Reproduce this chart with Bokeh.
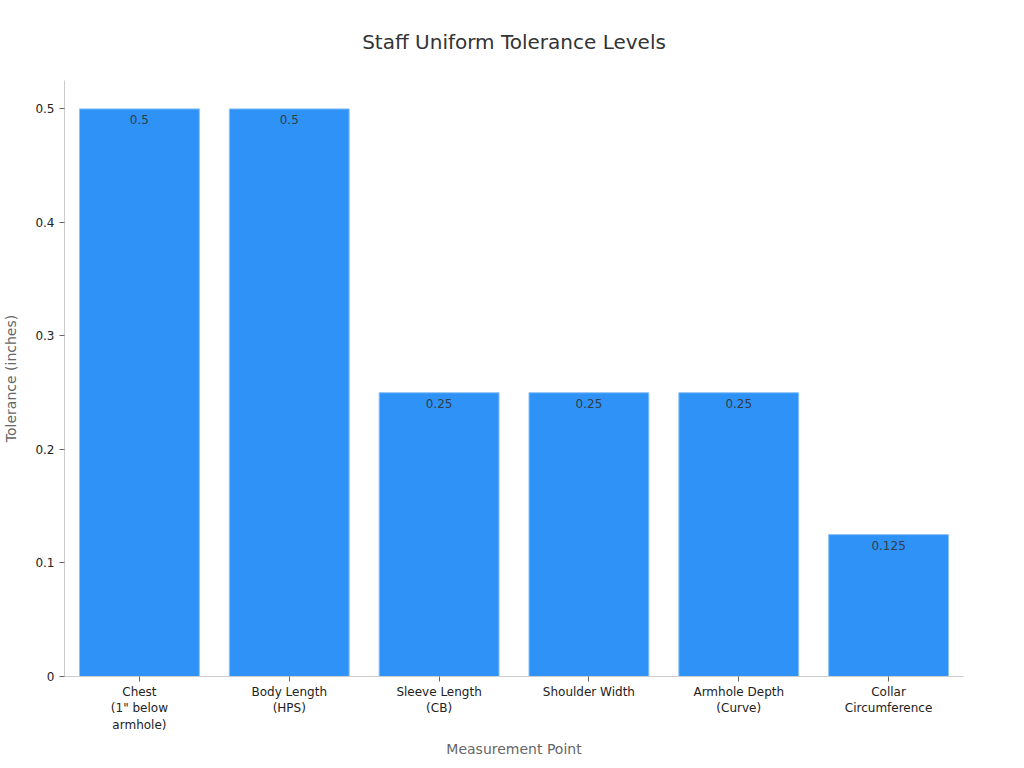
from bokeh.core.properties import value
from bokeh.embed import file_html
from bokeh.models import ColumnDataSource, FixedTicker
from bokeh.plotting import figure
from bokeh.resources import INLINE

FONT = "DejaVu Sans"
BAR_COLOUR = "#2f92f6"

# Data
measurements = [
    "Chest\n(1\" below\narmhole)",
    "Body Length\n(HPS)",
    "Sleeve Length\n(CB)",
    "Shoulder Width",
    "Armhole Depth\n(Curve)",
    "Collar\nCircumference",
]
tolerances = [0.5, 0.5, 0.25, 0.25, 0.25, 0.125]
tolerance_labels = ["0.5", "0.5", "0.25", "0.25", "0.25", "0.125"]
y_ticks = [0, 0.1, 0.2, 0.3, 0.4, 0.5]

source = ColumnDataSource(dict(x=measurements, top=tolerances, label=tolerance_labels))

p = figure(x_range=measurements, y_range=(0, 0.525), width=1008, height=760,
           output_backend="svg", toolbar_location=None, tools="",
           title="Staff Uniform Tolerance Levels")
p.min_border_left = 64
p.min_border_right = 45
p.min_border_top = 80
p.min_border_bottom = 81
p.outline_line_color = None
p.grid.visible = False

p.title.align = "center"
p.title.text_font = FONT
p.title.text_font_size = "20px"
p.title.text_font_style = "normal"
p.title.text_color = "#333333"
p.title.standoff = 54

p.vbar(x="x", top="top", width=0.8, source=source, fill_color=BAR_COLOUR,
       line_color="#8cc2f7", line_width=1)
p.text(x="x", y="top", text="label", source=source, y_offset=6,
       text_align="center", text_baseline="top", text_font=value(FONT),
       text_font_size="12px", text_color="#333d47")

for ax in (p.xaxis[0], p.yaxis[0]):
    ax.axis_line_color = "#cccccc"
    ax.major_tick_line_color = "#666666"
    ax.minor_tick_line_color = None
    ax.major_tick_out = 5
    ax.major_tick_in = 0
    ax.major_label_text_font = FONT
    ax.major_label_text_font_size = "12px"
    ax.major_label_text_color = "#222222"
    ax.axis_label_text_font = FONT
    ax.axis_label_text_font_size = "14px"
    ax.axis_label_text_font_style = "normal"
    ax.axis_label_text_color = "#666666"

p.xaxis.axis_label = "Measurement Point"
p.yaxis.axis_label = "Tolerance (inches)"
p.yaxis.ticker = FixedTicker(ticks=y_ticks)
p.yaxis.major_label_overrides = {0: "0"}
p.yaxis.axis_label_standoff = 13
p.xaxis.major_label_standoff = 3
p.xaxis.axis_label_standoff = 6

open("out.html", "w").write(file_html(p, INLINE))
